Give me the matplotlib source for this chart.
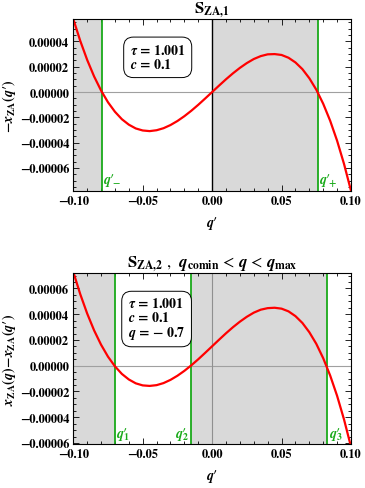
import numpy as np
import matplotlib
matplotlib.use("Agg")
import matplotlib.pyplot as plt
from matplotlib.ticker import MultipleLocator, FuncFormatter

plt.rcParams['font.family'] = ['STIXGeneral', 'Liberation Serif', 'DejaVu Serif']
plt.rcParams['font.weight'] = 'bold'
plt.rcParams['mathtext.fontset'] = 'custom'
plt.rcParams['mathtext.rm'] = 'STIXGeneral:bold'
plt.rcParams['mathtext.it'] = 'STIXGeneral:italic:bold'
plt.rcParams['mathtext.bf'] = 'STIXGeneral:bold'

PR = "\u2032"  # prime

# q' sample points
qp = np.round(np.arange(-0.100, 0.1001, 0.005), 3)

# panel 1: -x_ZA(q') in units of 1e-5
y1 = [5.77, 4.05, 2.54, 1.23, 0.12, -0.81, -1.56, -2.15, -2.58, -2.88, -3.04,
      -3.09, -3.02, -2.86, -2.61, -2.29, -1.91, -1.48, -1.01, -0.51, 0.00,
      0.51, 1.01, 1.48, 1.91, 2.29, 2.61, 2.84, 2.98, 3.00, 2.93, 2.71,
      2.34, 1.81, 1.09, 0.19, -0.93, -2.27, -3.85, -5.69, -7.80]
# panel 2: x_ZA(q) - x_ZA(q'), q = -0.7, units of 1e-5
y2 = [7.28, 5.56, 4.05, 2.74, 1.63, 0.70, -0.05, -0.64, -1.07, -1.37, -1.53,
      -1.57, -1.51, -1.35, -1.10, -0.78, -0.40, 0.03, 0.50, 1.00, 1.51,
      2.02, 2.52, 2.99, 3.42, 3.80, 4.12, 4.35, 4.47, 4.50, 4.43, 4.22,
      3.85, 3.32, 2.60, 1.70, 0.58, -0.76, -2.34, -4.18, -6.29]

q_roots1 = [-0.0794, 0.0759]
q_roots2 = [-0.0699, -0.0151, 0.0829]

fig = plt.figure(figsize=(3.65, 4.89), dpi=100)
ax1 = fig.add_axes([0.2008, 0.608, 0.7608, 0.351])
ax2 = fig.add_axes([0.2008, 0.090, 0.7608, 0.3497])

shade = '#d9d9d9'
green = '#1aaa1a'


def yfmt(v, pos):
    if abs(v) < 1e-12:
        return '0.00000'
    s = '%.5f' % abs(v)
    return ('\u2212' + s) if v < 0 else s


def xfmt(v, pos):
    if abs(v) < 1e-12:
        return '0.00'
    s = '%.2f' % abs(v)
    return ('\u2212' + s) if v < 0 else s


def style(ax):
    ax.set_xlim(-0.1, 0.1)
    ax.xaxis.set_major_locator(MultipleLocator(0.05))
    ax.xaxis.set_minor_locator(MultipleLocator(0.01))
    ax.yaxis.set_major_locator(MultipleLocator(0.00002))
    ax.yaxis.set_minor_locator(MultipleLocator(0.000005))
    ax.xaxis.set_major_formatter(FuncFormatter(xfmt))
    ax.yaxis.set_major_formatter(FuncFormatter(yfmt))
    ax.tick_params(which='both', direction='in', top=True, right=True,
                   labelsize=9, width=0.6, pad=3)
    ax.tick_params(which='major', length=4)
    ax.tick_params(which='minor', length=2)
    for lab in ax.get_xticklabels() + ax.get_yticklabels():
        lab.set_fontweight('bold')
    for s in ax.spines.values():
        s.set_linewidth(0.8)
    ax.set_xlabel("$q" + PR + "$", fontsize=10, labelpad=5)


def qlab(sub):
    return "$q" + PR + r"_{\!\!\!" + sub + "}$"


box = dict(boxstyle='round,pad=0.45,rounding_size=0.7', fc='white',
           ec='black', lw=0.7)

# ---- panel 1
ax1.set_ylim(-0.000078, 0.0000577)
ax1.axvspan(-0.1, q_roots1[0], color=shade, lw=0)
ax1.axvspan(0, q_roots1[1], color=shade, lw=0)
ax1.axhline(0, color='#a0a0a0', lw=0.8)
ax1.axvline(0, color='black', lw=1.0)
for r in q_roots1:
    ax1.axvline(r, color=green, lw=1.3)
ax1.plot(qp, np.array(y1) * 1e-5, color='red', lw=1.6)
style(ax1)
ax1.set_ylabel(r"$-x_{\mathrm{ZA}}(q" + PR + ")$", fontsize=10, labelpad=1)
ax1.set_title(r"$\mathrm{S}_{\mathrm{ZA{,}1}}$", fontsize=12, pad=3)
ax1.text(-0.0592, 0.0000385, r"$\tau$ = 1.001" + "\n" + r"$c$ = 0.1",
         fontsize=10, fontweight='bold', va='top', ha='left', linespacing=1.0,
         bbox=box)
ax1.text(q_roots1[0] + 0.001, -0.0000695, qlab("-"), color=green,
         fontsize=10, ha='left', va='center')
ax1.text(q_roots1[1] + 0.001, -0.0000695, qlab("+"), color=green,
         fontsize=10, ha='left', va='center')

# ---- panel 2
ax2.set_ylim(-0.0000608, 0.000072)
ax2.axvspan(-0.1, q_roots2[0], color=shade, lw=0)
ax2.axvspan(q_roots2[1], q_roots2[2], color=shade, lw=0)
ax2.axhline(0, color='#a0a0a0', lw=0.8)
ax2.axvline(0, color='#909090', lw=0.8)
for r in q_roots2:
    ax2.axvline(r, color=green, lw=1.3)
ax2.plot(qp, np.array(y2) * 1e-5, color='red', lw=1.6)
style(ax2)
ax2.set_ylabel(r"$x_{\mathrm{ZA}}(q)\!-\!x_{\mathrm{ZA}}(q" + PR + ")$",
               fontsize=10, labelpad=1)
ax2.set_title(r"$\mathrm{S}_{\mathrm{ZA{,}2}}$ ,  $q_{\mathrm{comin}}$ < $q$ < $q_{\mathrm{max}}$",
              fontsize=12, pad=3)
ax2.text(-0.0606, 0.0000545,
         r"$\tau$ = 1.001" + "\n" + r"$c$ = 0.1" + "\n" + "$q$ = \u2212 0.7",
         fontsize=10, fontweight='bold', va='top', ha='left', linespacing=1.0,
         bbox=box)
ax2.text(q_roots2[0] + 0.001, -0.000053, qlab("1"), color=green,
         fontsize=10, ha='left', va='center')
ax2.text(q_roots2[1] - 0.001, -0.000053, qlab("2"), color=green,
         fontsize=10, ha='right', va='center')
ax2.text(q_roots2[2] + 0.001, -0.000053, qlab("3"), color=green,
         fontsize=10, ha='left', va='center')

fig.savefig('out.png', dpi=100)
